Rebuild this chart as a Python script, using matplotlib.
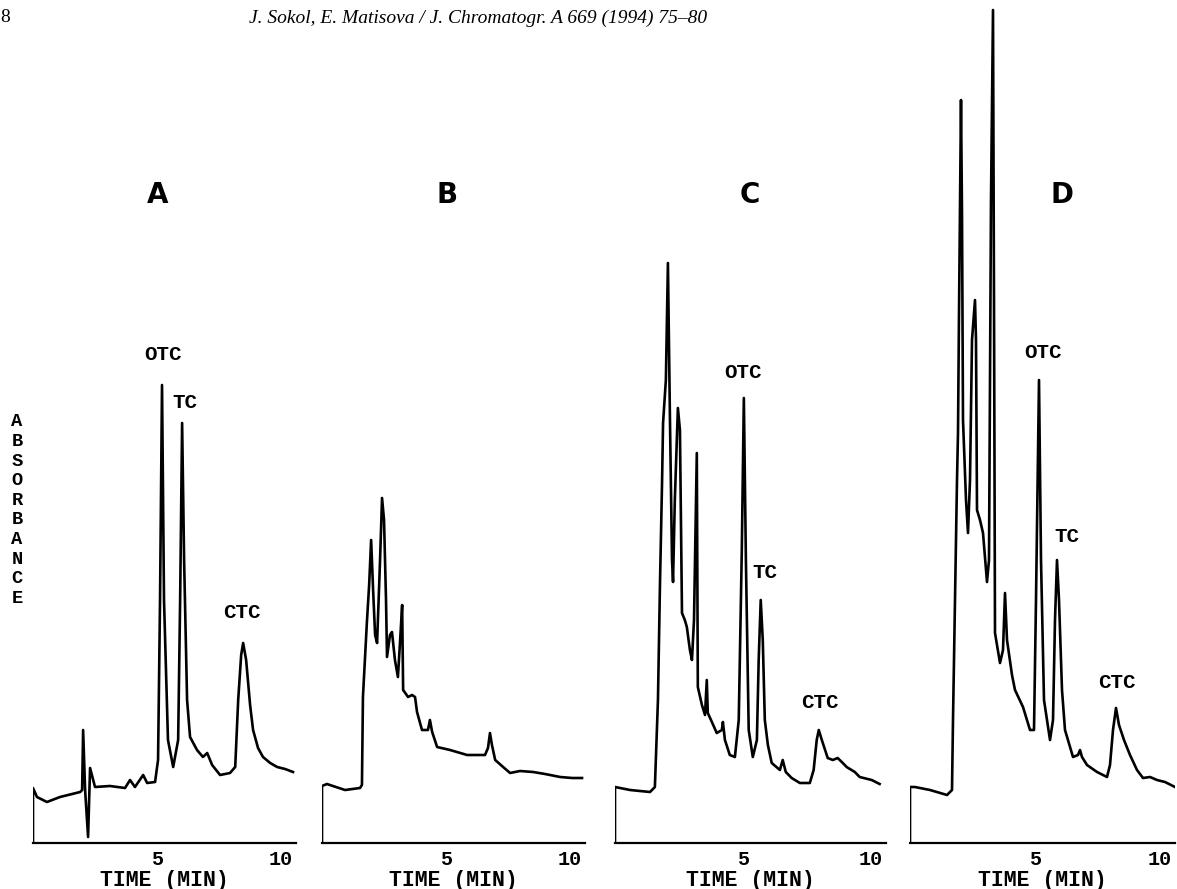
import matplotlib
matplotlib.use("Agg")
import numpy as np
from matplotlib import pyplot as plt

# chromatogram traces, time in min, absorbance in arbitrary units
a_time = [0, 0, 0.16, 0.56, 1.09, 1.90, 1.98, 2.02, 2.10, 2.22, 2.30, 2.50, 3.10, 3.71, 3.91, 4.11,
          4.44, 4.60, 4.92, 5.04, 5.12, 5.20, 5.28, 5.44, 5.65, 5.85, 5.93, 6.01, 6.09, 6.21, 6.33,
          6.61, 6.85, 7.02, 7.22, 7.54, 7.94, 8.15, 8.27, 8.39, 8.47, 8.59, 8.75, 8.87, 9.07, 9.27,
          9.56, 9.84, 10.16, 10.48]
a_abs = [0, 0.55, 0.46, 0.41, 0.46, 0.51, 0.53, 1.13, 0.53, 0.06, 0.75, 0.56, 0.57, 0.55, 0.63, 0.56,
         0.68, 0.60, 0.61, 0.83, 2.43, 4.58, 2.43, 1.03, 0.76, 1.03, 2.43, 4.20, 2.83, 1.43, 1.06,
         0.93, 0.86, 0.90, 0.78, 0.68, 0.70, 0.76, 1.43, 1.88, 2.00, 1.83, 1.38, 1.13, 0.95, 0.86,
         0.80, 0.76, 0.74, 0.71]

b_time = [0, 0, 0.20, 0.44, 0.93, 1.53, 1.61, 1.65, 1.81, 1.90, 1.98, 2.06, 2.14, 2.22, 2.34, 2.42,
          2.50, 2.58, 2.62, 2.74, 2.82, 2.94, 3.06, 3.15, 3.23, 3.27, 3.47, 3.63, 3.75, 3.83, 4.03,
          4.27, 4.35, 4.44, 4.64, 5.16, 5.85, 6.57, 6.69, 6.77, 6.85, 6.98, 7.30, 7.58, 7.98, 8.51,
          8.99, 9.60, 10.08, 10.48]
b_abs = [0, 0.57, 0.59, 0.57, 0.53, 0.55, 0.58, 1.46, 2.21, 2.58, 3.03, 2.53, 2.08, 2.00, 2.83, 3.45,
         3.23, 2.43, 1.86, 2.08, 2.11, 1.83, 1.66, 2.03, 2.38, 1.53, 1.46, 1.48, 1.46, 1.31, 1.13,
         1.13, 1.23, 1.11, 0.96, 0.93, 0.88, 0.88, 0.95, 1.10, 0.98, 0.83, 0.76, 0.70, 0.72, 0.71,
         0.69, 0.66, 0.65, 0.65]

c_time = [0, 0, 0.20, 0.59, 1.37, 1.56, 1.68, 1.76, 1.84, 1.88, 1.99, 2.07, 2.15, 2.23, 2.27, 2.34,
          2.46, 2.54, 2.62, 2.73, 2.81, 2.93, 3.01, 3.09, 3.20, 3.24, 3.40, 3.52, 3.59, 3.63, 3.79,
          3.98, 4.18, 4.22, 4.30, 4.49, 4.69, 4.84, 4.96, 5.04, 5.12, 5.23, 5.39, 5.55, 5.62, 5.70,
          5.78, 5.86, 5.98, 6.13, 6.45, 6.56, 6.68, 6.91, 7.23, 7.62, 7.77, 7.89, 7.97, 8.09, 8.32,
          8.52, 8.71, 8.91, 9.06, 9.38, 9.57, 10.04, 10.35]
c_abs = [0, 0.56, 0.55, 0.53, 0.51, 0.56, 1.43, 2.60, 3.60, 4.20, 4.63, 5.80, 4.23, 2.83, 2.61, 3.43,
         4.35, 4.13, 2.30, 2.23, 2.16, 1.93, 1.83, 2.23, 3.90, 1.56, 1.38, 1.28, 1.63, 1.30, 1.21,
         1.10, 1.13, 1.21, 1.03, 0.88, 0.86, 1.23, 2.93, 4.45, 2.83, 1.13, 0.86, 1.03, 1.83, 2.43,
         2.03, 1.23, 0.98, 0.80, 0.73, 0.83, 0.71, 0.65, 0.60, 0.60, 0.73, 1.03, 1.13, 1.03, 0.85,
         0.83, 0.85, 0.80, 0.76, 0.71, 0.66, 0.63, 0.59]

d_time = [0, 0, 0.20, 0.80, 1.48, 1.68, 1.72, 1.80, 1.88, 1.92, 1.96, 2.04, 2.08, 2.12, 2.24, 2.32,
          2.40, 2.48, 2.60, 2.64, 2.68, 2.80, 2.92, 3.08, 3.16, 3.24, 3.32, 3.36, 3.40, 3.60, 3.72,
          3.80, 3.88, 3.92, 4.08, 4.20, 4.52, 4.80, 4.96, 5.04, 5.16, 5.24, 5.36, 5.60, 5.72, 5.80,
          5.88, 5.96, 6.08, 6.20, 6.52, 6.72, 6.80, 6.88, 7.08, 7.48, 7.88, 8.00, 8.12, 8.24, 8.36,
          8.56, 8.80, 9.08, 9.32, 9.60, 9.88, 10.20, 10.60]
d_abs = [0, 0.56, 0.56, 0.53, 0.48, 0.53, 1.23, 2.43, 3.63, 4.10, 5.30, 7.43, 6.30, 4.23, 3.43, 3.10,
         3.63, 5.03, 5.43, 5.03, 3.33, 3.23, 3.10, 2.61, 2.83, 6.43, 8.33, 5.43, 2.10, 1.80, 1.93,
         2.50, 2.03, 1.96, 1.68, 1.53, 1.36, 1.13, 1.13, 2.43, 4.63, 2.83, 1.43, 1.03, 1.23, 2.23,
         2.83, 2.43, 1.53, 1.13, 0.86, 0.88, 0.93, 0.86, 0.78, 0.71, 0.66, 0.78, 1.13, 1.35, 1.18,
         1.03, 0.88, 0.73, 0.65, 0.66, 0.63, 0.61, 0.56]

panel_names = ["A", "B", "C", "D"]
tick_values = [5, 10]
tick_labels = ["5", "10"]

W, H = 1177, 889
mono = "Liberation Mono"

fig = plt.figure(figsize=(W / 100, H / 100), dpi=100)

# left edge and width of each panel, in pixels
boxes = [(33, 263), (322, 263), (615, 271), (910, 265)]
traces = [(a_time, a_abs), (b_time, b_abs), (c_time, c_abs), (d_time, d_abs)]
bottom_px = 843

# peak labels: (text, x, y) in data coords of each panel
peak_labels = [
    [("OTC", 5.24, 4.88), ("TC", 6.13, 4.41), ("CTC", 8.43, 2.30)],
    [],
    [("OTC", 5.0, 4.71), ("TC", 5.86, 2.71), ("CTC", 8.01, 1.41)],
    [("OTC", 5.32, 4.90), ("TC", 6.28, 3.06), ("CTC", 8.28, 1.61)],
]
letter_x = [5.04, 5.04, 5.27, 6.08]

for i, ((left, width), (t, y)) in enumerate(zip(boxes, traces)):
    ax = fig.add_axes([left / W, (H - bottom_px) / H, width / W, bottom_px / H])
    ax.plot(t, y, color="black", lw=1.9, solid_joinstyle="round")
    ax.set_xlim(0, 10.6)
    ax.set_ylim(0, 8.43)
    for s in ["top", "right", "left"]:
        ax.spines[s].set_visible(False)
    ax.spines["bottom"].set_linewidth(1.6)
    ax.set_yticks([])
    ax.set_xticks(tick_values)
    ax.set_xticklabels(tick_labels, fontfamily=mono, fontweight="bold", fontsize=14.5)
    ax.tick_params(axis="x", length=0, pad=5)
    ax.set_xlabel("TIME (MIN)", fontfamily=mono, fontweight="bold", fontsize=15.5, labelpad=1)
    ax.patch.set_alpha(0)
    ax.text(letter_x[i], 6.48, panel_names[i], fontsize=20, fontweight="heavy",
            ha="center", va="center")
    for txt, lx, ly in peak_labels[i]:
        ax.text(lx, ly, txt, fontfamily=mono, fontweight="bold", fontsize=15,
                ha="center", va="center")

fig.text(17 / W, 1 - 510 / H, "\n".join("ABSORBANCE"), fontfamily=mono, fontweight="bold",
         fontsize=13.5, ha="center", va="center", linespacing=1.2)
fig.text(0, 1 - 18 / H, "8", fontfamily="Liberation Serif", fontsize=14, va="center")
fig.text(478 / W, 1 - 18 / H, "J. Sokol, E. Matisova / J. Chromatogr. A 669 (1994) 75\u201380",
         fontfamily="Liberation Serif", style="italic", fontsize=14, ha="center", va="center")

fig.savefig("out.png", dpi=100)
